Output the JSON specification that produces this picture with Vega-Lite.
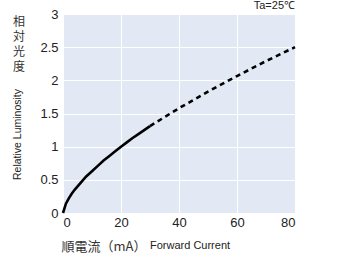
{
  "$schema": "https://vega.github.io/schema/vega-lite/v6.json",
  "autosize": "none",
  "width": 232,
  "height": 199,
  "padding": {"left": 63, "top": 14, "right": 46, "bottom": 50},
  "background": "white",
  "view": {"fill": "#e2e9f4", "stroke": null},
  "config": {"font": "Liberation Sans"},
  "datasets": {
    "curve": [
      {"current": 0, "lum": 0, "seg": "measured"},
      {"current": 1, "lum": 0.14, "seg": "measured"},
      {"current": 2, "lum": 0.22, "seg": "measured"},
      {"current": 3, "lum": 0.29, "seg": "measured"},
      {"current": 4, "lum": 0.35, "seg": "measured"},
      {"current": 6, "lum": 0.45, "seg": "measured"},
      {"current": 8, "lum": 0.55, "seg": "measured"},
      {"current": 10, "lum": 0.63, "seg": "measured"},
      {"current": 12, "lum": 0.71, "seg": "measured"},
      {"current": 14, "lum": 0.79, "seg": "measured"},
      {"current": 16, "lum": 0.86, "seg": "measured"},
      {"current": 18, "lum": 0.93, "seg": "measured"},
      {"current": 20, "lum": 1.0, "seg": "measured"},
      {"current": 22, "lum": 1.065, "seg": "measured"},
      {"current": 24, "lum": 1.13, "seg": "measured"},
      {"current": 26, "lum": 1.19, "seg": "measured"},
      {"current": 28, "lum": 1.25, "seg": "measured"},
      {"current": 30, "lum": 1.31, "seg": "measured"},
      {"current": 30, "lum": 1.31, "seg": "extrapolated"},
      {"current": 40, "lum": 1.58, "seg": "extrapolated"},
      {"current": 50, "lum": 1.83, "seg": "extrapolated"},
      {"current": 60, "lum": 2.065, "seg": "extrapolated"},
      {"current": 70, "lum": 2.29, "seg": "extrapolated"},
      {"current": 80, "lum": 2.5, "seg": "extrapolated"}
    ]
  },
  "encoding": {
    "x": {"field": "current", "type": "quantitative",
      "scale": {"domain": [0, 80], "nice": false},
      "axis": {"values": [0, 20, 40, 60, 80], "grid": true, "gridColor": "white", "gridWidth": 1, "domain": false, "ticks": false,
        "labelFontSize": 13, "labelColor": "#222", "labelPadding": 3, "labelFont": "Liberation Sans", "labelOverlap": false, "format": "d",
        "title": "順電流（mA）", "titleFont": "Noto Sans CJK JP", "titleFontSize": 13, "titleFontWeight": "normal", "titleColor": "#333",
        "titleAnchor": "start", "titleAlign": "left", "titleX": -2, "titleY": 33, "titleBaseline": "middle"}},
    "y": {"field": "lum", "type": "quantitative",
      "scale": {"domain": [0, 3], "nice": false},
      "axis": {"values": [0, 0.5, 1, 1.5, 2, 2.5, 3], "grid": true, "gridColor": "white", "gridWidth": 1, "domain": false, "ticks": false,
        "labelFontSize": 13, "labelColor": "#222", "labelPadding": 5, "labelFont": "Liberation Sans", "labelOverlap": false, "format": "~g",
        "title": "Relative Luminosity", "titleFont": "Liberation Sans", "titleFontSize": 10.5, "titleFontWeight": "normal", "titleColor": "#222",
        "titleX": -46, "titleY": 120, "titleAngle": 270, "titleAlign": "center", "titleBaseline": "middle"}}
  },
  "layer": [
    {
      "data": {"name": "curve"},
      "transform": [{"filter": "datum.seg === 'measured'"}],
      "mark": {"type": "line", "color": "#000", "strokeWidth": 2.6, "strokeCap": "butt"}
    },
    {
      "data": {"name": "curve"},
      "transform": [{"filter": "datum.seg === 'extrapolated'"}],
      "mark": {"type": "line", "color": "#000", "strokeWidth": 2.6, "strokeDash": [5, 4], "strokeCap": "butt"}
    },
    {
      "data": {"values": [{"current": -15.2, "lum": 2.96}]},
      "mark": {"type": "text", "text": ["相", "対", "光", "度"], "font": "Noto Sans CJK JP", "fontSize": 12, "lineHeight": 15, "align": "center", "baseline": "top", "color": "#333"}
    },
    {
      "data": {"values": [{"current": 30, "lum": -0.5}]},
      "mark": {"type": "text", "text": "Forward Current", "font": "Liberation Sans", "fontSize": 11, "align": "left", "baseline": "middle", "color": "#222"}
    },
    {
      "data": {"values": [{"current": 80, "lum": 3}]},
      "mark": {"type": "text", "text": "Ta=25℃", "font": "Liberation Sans", "fontSize": 11, "align": "right", "baseline": "bottom", "dy": -3, "color": "#222"}
    }
  ]
}
